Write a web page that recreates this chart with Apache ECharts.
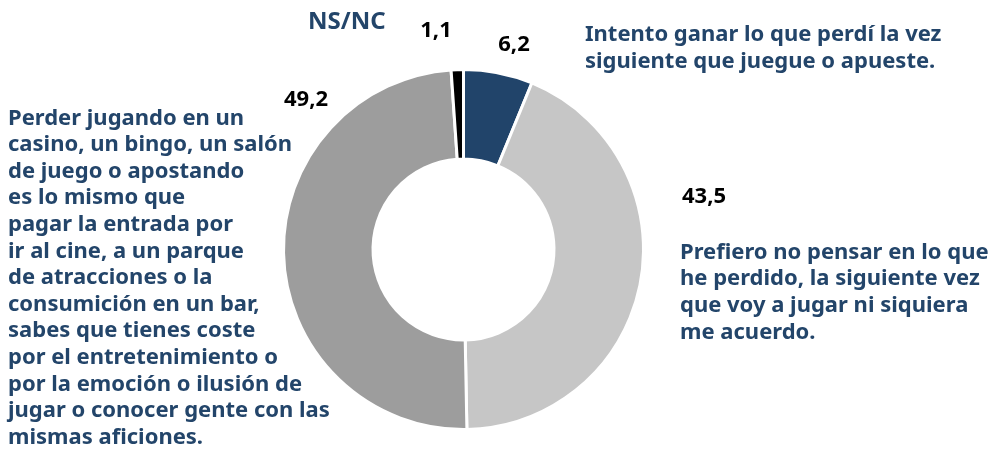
<!DOCTYPE html>
<html>
<head>
<meta charset="utf-8">
<script src="https://cdn.jsdelivr.net/npm/echarts@6/dist/echarts.min.js"></script>
<style>
  html, body { margin: 0; padding: 0; background: #fff; }
  #chart { width: 1002px; height: 449px; }
</style>
</head>
<body>
<div id="chart"></div>
<script>
// respuestas, en orden horario desde arriba
const categories = [
  'Intento ganar lo que perdí la vez\nsiguiente que juegue o apueste.',
  'Prefiero no pensar en lo que\nhe perdido, la siguiente vez\nque voy a jugar ni siquiera\nme acuerdo.',
  'Perder jugando en un\ncasino, un bingo, un salón\nde juego o apostando\nes lo mismo que\npagar la entrada por\nir al cine, a un parque\nde atracciones o la\nconsumición en un bar,\nsabes que tienes coste\npor el entretenimiento o\npor la emoción o ilusión de\njugar o conocer gente con las\nmismas aficiones.',
  'NS/NC'
]
const values = [6.2, 43.5, 49.2, 1.1]
const colors = ['#21446a', '#c6c6c6', '#9d9d9d', '#000000']

const NAVY = '#23456a'
const FONT = '"Noto Sans", sans-serif'

const fmt = v => String(v).replace('.', ',')

// posiciones de los textos (categoría y valor)
const catPos = [
  { x: 585, y: 21, lh: 27, fs: 22 },
  { x: 680, y: 239, lh: 26.7, fs: 22 },
  { x: 8, y: 105, lh: 26.6, fs: 22 },
  { x: 308, y: 7, lh: 30, fs: 24 }
]
const valPos = [
  { x: 514, y: 45 },
  { x: 704, y: 197 },
  { x: 306, y: 100 },
  { x: 436, y: 31 }
]

const graphic = []
categories.forEach((c, i) => {
  graphic.push({
    type: 'text', left: catPos[i].x, top: catPos[i].y,
    style: {
      text: c, fill: NAVY, lineHeight: catPos[i].lh,
      font: 'bold ' + catPos[i].fs + 'px ' + FONT
    }
  })
  graphic.push({
    type: 'text', x: valPos[i].x, y: valPos[i].y,
    style: {
      text: fmt(values[i]), fill: '#000',
      align: 'center', verticalAlign: 'middle',
      font: 'bold 22px ' + FONT
    }
  })
})

const chart = echarts.init(document.getElementById('chart'))
chart.setOption({
  animation: false,
  graphic,
  series: [{
    type: 'pie',
    center: [463.5, 249.5],
    radius: [90.5, 180],
    startAngle: 90,
    clockwise: true,
    label: { show: false },
    labelLine: { show: false },
    itemStyle: { borderColor: '#fff', borderWidth: 3 },
    emphasis: { disabled: true },
    data: values.map((v, i) => ({
      name: categories[i], value: v, itemStyle: { color: colors[i] }
    }))
  }]
})
</script>
</body>
</html>
